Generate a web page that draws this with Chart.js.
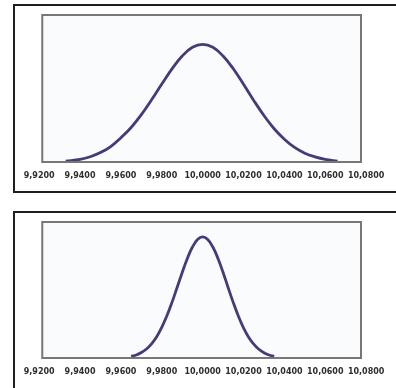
<!DOCTYPE html>
<html>
<head>
<meta charset="utf-8">
<script src="https://cdn.jsdelivr.net/npm/chart.js@4.4.1/dist/chart.umd.min.js"></script>
<style>
  html, body { margin: 0; padding: 0; background: #ffffff; }
  body { width: 396px; height: 388px; position: relative; overflow: hidden; }
  .frame { position: absolute; box-sizing: border-box; border-color: #1f1f1f; border-style: solid; }
  .plot { position: absolute; }
</style>
</head>
<body>
<div class="frame" style="left:13px; top:4px; width:400px; height:189px; border-width:2px 0 2px 2px;"></div>
<div class="frame" style="left:13px; top:211px; width:400px; height:200px; border-width:2px 0 0 2px;"></div>
<div class="plot" style="left:15px; top:5px; width:381px; height:187px;"><canvas id="wide"></canvas></div>
<div class="plot" style="left:15px; top:213px; width:381px; height:175px;"><canvas id="narrow"></canvas></div>
<script>
// Axis ticks shared by both panels
const tickValues = [9.92, 9.94, 9.96, 9.98, 10.00, 10.02, 10.04, 10.06, 10.08];
const tickLabels = ['9,9200', '9,9400', '9,9600', '9,9800', '10,0000', '10,0200', '10,0400', '10,0600', '10,0800'];

// Wider distribution (upper panel)
const wideX = [9.933, 9.940, 9.945, 9.950, 9.955, 9.960, 9.965, 9.970, 9.975, 9.980, 9.985, 9.990, 9.995,
               10.000, 10.005, 10.010, 10.015, 10.020, 10.025, 10.030, 10.035, 10.040, 10.045, 10.050, 10.055, 10.060, 10.066];
const wideY = [0.006, 0.018, 0.036, 0.064, 0.105, 0.165, 0.235, 0.322, 0.423, 0.530, 0.634, 0.721, 0.780,
               0.800, 0.780, 0.721, 0.634, 0.529, 0.419, 0.316, 0.226, 0.155, 0.099, 0.060, 0.035, 0.018, 0.006];

// Narrower distribution (lower panel)
const narrowX = [9.9650, 9.9675, 9.9700, 9.9725, 9.9750, 9.9775, 9.9800, 9.9825, 9.9850, 9.9875, 9.9900, 9.9925, 9.9950, 9.9975,
                 10.0000, 10.0025, 10.0050, 10.0075, 10.0100, 10.0125, 10.0150, 10.0175, 10.0200, 10.0225, 10.0250, 10.0275, 10.0300, 10.0325, 10.0350];
const narrowY = [0.012, 0.022, 0.040, 0.066, 0.104, 0.156, 0.226, 0.310, 0.409, 0.518, 0.629, 0.732, 0.816, 0.871,
                 0.890, 0.871, 0.816, 0.732, 0.629, 0.517, 0.407, 0.307, 0.222, 0.153, 0.102, 0.064, 0.039, 0.022, 0.012];

// Framed plot area with a faint tint
const plotBox = {
  id: 'plotBox',
  beforeDatasetsDraw(chart) {
    const a = chart.chartArea, ctx = chart.ctx;
    ctx.save();
    ctx.fillStyle = '#fafbfd';
    ctx.fillRect(a.left, a.top, a.right - a.left, a.bottom - a.top);
    ctx.restore();
  },
  afterDatasetsDraw(chart) {
    const a = chart.chartArea, ctx = chart.ctx;
    ctx.save();
    ctx.strokeStyle = '#7b7573';
    ctx.lineWidth = 2;
    ctx.strokeRect(a.left, a.top, a.right - a.left, a.bottom - a.top);
    ctx.restore();
  }
};

function makeChart(id, xs, ys, pad) {
  const points = xs.map((x, i) => ({ x: x, y: ys[i] }));
  return new Chart(document.getElementById(id), {
    type: 'line',
    data: {
      datasets: [{
        data: points,
        borderColor: '#463a78',
        borderWidth: 2.8,
        pointRadius: 0,
        tension: 0.4,
        fill: false
      }]
    },
    options: {
      responsive: true,
      maintainAspectRatio: false,
      animation: false,
      events: [],
      layout: { padding: pad },
      plugins: { legend: { display: false }, tooltip: { enabled: false } },
      scales: {
        x: {
          type: 'linear',
          min: 9.9215,
          max: 10.0775,
          grid: { display: false, drawTicks: false },
          border: { display: false },
          afterBuildTicks(scale) {
            scale.ticks = tickValues.map(v => ({ value: v }));
          },
          afterFit(scale) { scale.height = 30; },
          ticks: {
            autoSkip: false,
            maxRotation: 0,
            padding: 9,
            color: '#2e2e2e',
            font: { family: "'DejaVu Sans', sans-serif", size: 8, weight: 'bold' },
            callback(value, index) { return tickLabels[index]; }
          }
        },
        y: { display: false, min: 0, max: 1 }
      }
    },
    plugins: [plotBox]
  });
}

makeChart('wide', wideX, wideY, { left: 25, right: 35, top: 10, bottom: 0 });
makeChart('narrow', narrowX, narrowY, { left: 25, right: 35, top: 9, bottom: 0 });
</script>
</body>
</html>
